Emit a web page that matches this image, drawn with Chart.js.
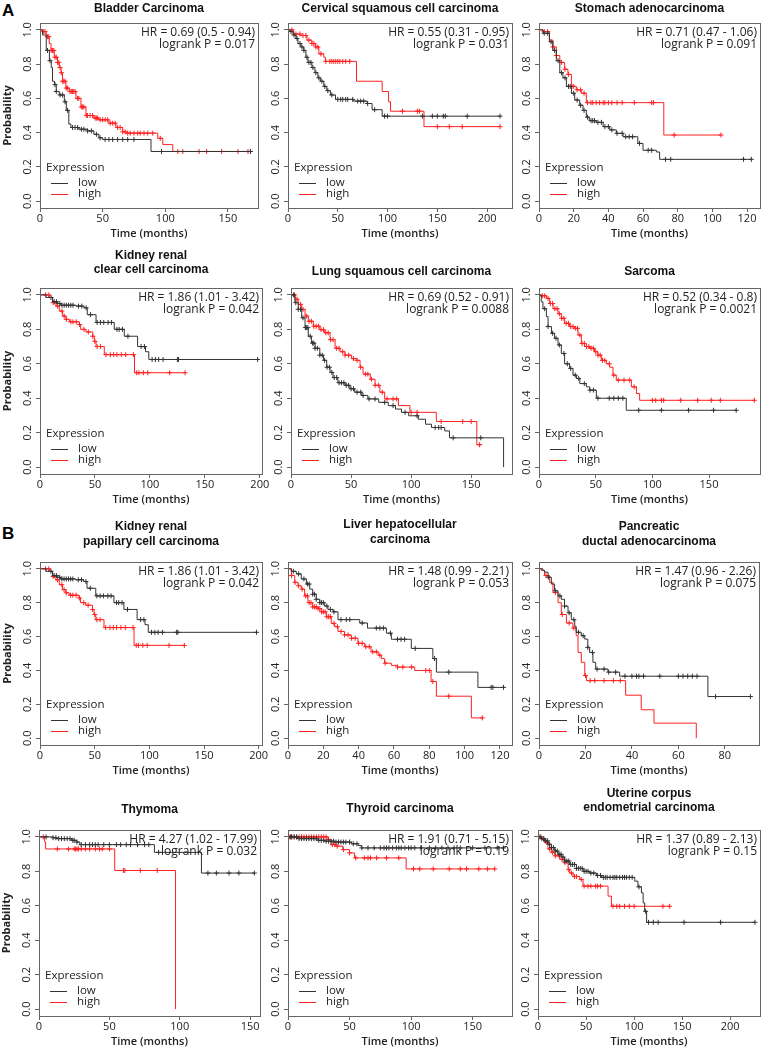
<!DOCTYPE html>
<html>
<head>
<meta charset="utf-8">
<script src="https://cdn.jsdelivr.net/npm/chart.js@4.4.1/dist/chart.umd.min.js"></script>
<style>
  html, body { margin: 0; padding: 0; background: #fff; }
  body { position: relative; width: 765px; height: 1051px; overflow: hidden; }
  canvas { position: absolute; }
  .tag { position: absolute; font: bold 17px "Liberation Sans", Arial, sans-serif; line-height: 17px; color: #000; }
</style>
</head>
<body>
<div class="tag" style="left:2px;top:2px;">A</div>
<div class="tag" style="left:2px;top:525px;">B</div>
<script>
// ============================================
// KAPLAN-MEIER PANELS
// steps: [time (months), survival after drop]; censors: times only
// ============================================

const yTicks = [0, 0.2, 0.4, 0.6, 0.8, 1.0];
const ticks50 = [0, 50, 100, 150];
const ticks50to200 = [0, 50, 100, 150, 200];
const ticks20to120 = [0, 20, 40, 60, 80, 100, 120];
const ticks20to80 = [0, 20, 40, 60, 80];

// Bladder Carcinoma
const bladderTitle = ['Bladder Carcinoma'];
const bladderHr = ['HR = 0.69 (0.5 - 0.94)', 'logrank P = 0.017'];
const bladderLow = [[0,1],[2,0.97],[5,0.88],[7.5,0.82],[9,0.78],[10,0.70],[11.5,0.68],[13,0.64],[15.4,0.62],[19.4,0.58],[21,0.53],[23,0.45],[24.7,0.43],[31,0.42],[38,0.41],[43,0.39],[47,0.37],[50,0.36],[88.6,0.29],[168,0.29]];
const bladderLowCens = [6,8,12,13,16,18,20,22,26,28,30,33,35,38,41,45,48,52,55,58,62,66,70,75,97,168];
const bladderHigh = [[0,1],[2,0.99],[5,0.96],[7.4,0.92],[8.8,0.88],[11.4,0.84],[14,0.81],[15.4,0.78],[16.8,0.75],[18,0.70],[20.7,0.66],[23.4,0.64],[28.7,0.60],[32.7,0.55],[36.7,0.50],[43,0.485],[47,0.475],[55,0.455],[60.6,0.43],[66,0.405],[68.6,0.397],[94,0.367],[98,0.33],[106,0.29],[170,0.29]];
const bladderHighCens = [3,4,6,7,9,10,11,12,13,14,15,16,17,18,19,20,21,22,24,25,26,27,28,30,31,33,34,35,37,38,40,42,44,45,46,48,50,52,54,56,58,60,62,64,66,68,70,72,75,78,80,83,86,90,96,110,114,127,133,145,158,166,168];

// Cervical squamous cell carcinoma
const cervTitle = ['Cervical squamous cell carcinoma'];
const cervHr = ['HR = 0.55 (0.31 - 0.95)', 'logrank P = 0.031'];
const cervLow = [[0,1],[2,0.99],[5,0.97],[8,0.95],[10,0.92],[13,0.90],[15.8,0.88],[18,0.84],[20,0.81],[24,0.78],[27,0.75],[30,0.72],[32.5,0.70],[36,0.67],[39,0.645],[42.6,0.62],[47.7,0.594],[66,0.584],[79.5,0.57],[84.5,0.534],[94.6,0.496],[213,0.496]];
const cervLowCens = [3,6,9,12,14,16,19,21,23,25,28,31,34,37,40,44,50,53,55,58,60,65,70,73,76,80,87,97,100,135,145,150,156,158,180,213];
const cervHigh = [[0,1],[5.7,0.976],[12.4,0.967],[19,0.94],[24,0.92],[27.5,0.90],[31,0.86],[36,0.84],[37.6,0.816],[68.8,0.70],[94.6,0.64],[101,0.58],[103,0.525],[136.6,0.435],[213,0.435]];
const cervHighCens = [4,8,12,15,18,21,24,26,28,30,33,38,42,44,46,48,50,52,55,58,62,115,130,132,150,162,175,213];

// Stomach adenocarcinoma
const stomTitle = ['Stomach adenocarcinoma'];
const stomHr = ['HR = 0.71 (0.47 - 1.06)', 'logrank P = 0.091'];
const stomLow = [[0,1],[2.3,0.98],[6,0.93],[8,0.88],[10,0.82],[12,0.75],[13.8,0.72],[15.8,0.67],[18.7,0.63],[20.6,0.59],[23.5,0.56],[25.4,0.53],[27.3,0.49],[29,0.47],[33,0.46],[37,0.435],[40.8,0.416],[44.6,0.396],[48.5,0.376],[57,0.337],[60,0.297],[67.7,0.287],[69.6,0.244],[122.5,0.244]];
const stomLowCens = [3,5,7,9,11,13,15,17,18,20,22,24,26,28,30,31,32,34,36,38,40,42,45,48,50,52,54,58,63,65,73,76,118,122.5];
const stomHigh = [[0,1],[2.3,0.99],[6,0.94],[8,0.90],[10,0.85],[12,0.81],[14.8,0.77],[16.7,0.74],[18.7,0.67],[21.5,0.65],[24.4,0.63],[27.3,0.575],[72,0.386],[105,0.386]];
const stomHighCens = [3,5,8,10,13,15,17,19,20,22,24,26,28,30,31,33,35,37,38,40,42,45,48,55,65,66,78,105];

// Kidney renal (same curves appear in A and B)
const kidneyClearTitle = ['Kidney renal', 'clear cell carcinoma'];
const kidneyPapTitle = ['Kidney renal', 'papillary cell carcinoma'];
const kidneyHr = ['HR = 1.86 (1.01 - 3.42)', 'logrank P = 0.042'];
const kidneyLow = [[0,1],[5.5,0.985],[11.5,0.96],[16,0.95],[19,0.94],[32.7,0.935],[40,0.925],[43,0.885],[51,0.84],[67.6,0.80],[76.7,0.76],[88.8,0.70],[96,0.67],[99,0.625],[198,0.625]];
const kidneyLowCens = [10,13,15,18,20,22,24,26,28,30,35,38,42,46,52,55,58,62,65,70,72,75,80,92,95,102,105,108,112,125,126,198];
const kidneyHigh = [[0,1],[8.5,0.985],[11.5,0.955],[14.5,0.935],[17.6,0.906],[20.6,0.877],[23.6,0.858],[26.7,0.844],[35.8,0.828],[37,0.80],[41.8,0.785],[48,0.76],[49.4,0.73],[51,0.70],[58.5,0.653],[86,0.548],[132,0.548]];
const kidneyHighCens = [5,8,12,16,20,22,24,28,30,33,36,40,44,48,50,52,55,60,64,67,70,74,78,85,88,90,94,98,118,132];

// Lung squamous cell carcinoma
const lungTitle = ['Lung squamous cell carcinoma'];
const lungHr = ['HR = 0.69 (0.52 - 0.91)', 'logrank P = 0.0088'];
const lungLow = [[0,1],[3.3,0.955],[6,0.916],[8.9,0.867],[11.7,0.81],[14.4,0.76],[17,0.72],[20,0.69],[24,0.65],[27,0.62],[29.7,0.58],[32.5,0.55],[35,0.52],[39,0.49],[45,0.475],[49,0.455],[53,0.435],[59,0.416],[64,0.396],[73,0.376],[81,0.357],[87,0.337],[92,0.318],[98,0.298],[106,0.278],[112,0.249],[117,0.23],[128,0.21],[132,0.17],[177,0]];
const lungLowCens = [2,4,6,8,10,12,13,14,16,18,19,20,22,24,26,28,30,32,34,36,38,40,42,44,46,48,50,52,55,58,60,65,70,78,85,95,105,120,123,125,135,158];
const lungHigh = [[0,1],[3.3,0.975],[6,0.945],[8.9,0.916],[11.7,0.877],[14.4,0.847],[18.6,0.818],[24,0.798],[28,0.78],[32.5,0.74],[36.7,0.69],[40.8,0.67],[45,0.65],[50.5,0.63],[54.7,0.62],[57.5,0.58],[60,0.54],[66,0.51],[70,0.475],[74,0.435],[78,0.396],[89.4,0.357],[99,0.318],[121,0.265],[154.7,0.13],[159,0.13]];
const lungHighCens = [3,5,8,10,13,15,17,19,21,23,25,27,29,31,33,35,38,40,43,45,48,52,55,58,62,64,67,70,73,76,80,85,88,100,105,125,143,150,157];

// Sarcoma
const sarcTitle = ['Sarcoma'];
const sarcHr = ['HR = 0.52 (0.34 - 0.8)', 'logrank P = 0.0021'];
const sarcLow = [[0,1],[2,0.96],[3.5,0.92],[6.5,0.874],[8,0.816],[11,0.777],[13.8,0.748],[16.8,0.709],[19.7,0.66],[22.6,0.60],[27,0.573],[30,0.534],[33,0.515],[36,0.485],[41.8,0.466],[44.7,0.447],[50.6,0.40],[77,0.33],[174,0.33]];
const sarcLowCens = [5,8,12,15,18,22,25,28,32,35,40,45,48,52,62,66,70,74,88,108,132,154,174];
const sarcHigh = [[0,1],[2,0.995],[6.5,0.98],[9.4,0.95],[12.4,0.92],[16.8,0.89],[19.7,0.864],[22.6,0.835],[27,0.816],[31.5,0.806],[34.4,0.767],[37.4,0.718],[40.3,0.70],[44.7,0.69],[49,0.67],[52,0.65],[55,0.62],[59.4,0.60],[62.4,0.58],[65.3,0.534],[68.2,0.505],[81.5,0.466],[86,0.427],[88.8,0.388],[190,0.388]];
const sarcHighCens = [3,5,8,10,12,14,16,18,20,22,24,26,28,30,32,34,36,38,40,42,44,46,48,50,52,54,56,58,62,66,70,75,80,84,100,103,108,110,125,140,152,160,190];

// Liver hepatocellular carcinoma
const liverTitle = ['Liver hepatocellular', 'carcinoma'];
const liverHr = ['HR = 1.48 (0.99 - 2.21)', 'logrank P = 0.053'];
const liverLow = [[0,1],[1.9,0.985],[4.7,0.97],[7.5,0.94],[10.4,0.91],[12.3,0.88],[14,0.85],[16,0.82],[18,0.80],[20.8,0.78],[22.6,0.76],[25.5,0.746],[28.3,0.70],[40.6,0.68],[45,0.65],[55.7,0.62],[58.5,0.584],[69.8,0.53],[82,0.47],[84,0.39],[107.5,0.30],[121.7,0.30]];
const liverLowCens = [3,6,9,11,12,14,15,16,18,19,20,22,24,26,30,33,35,42,50,52,54,58,62,64,66,72,83,91,115,116,122];
const liverHigh = [[0,1],[1.9,0.96],[3.8,0.92],[5.7,0.90],[7.5,0.88],[9.4,0.84],[11.3,0.80],[14,0.775],[17,0.765],[18.9,0.746],[21.7,0.717],[24.5,0.678],[26.4,0.658],[28.3,0.63],[32,0.61],[35.8,0.59],[39.6,0.56],[43.4,0.54],[47,0.51],[51,0.49],[52.8,0.47],[54.7,0.443],[58.5,0.43],[62,0.42],[71.7,0.40],[81,0.335],[84,0.248],[103.8,0.12],[110,0.12]];
const liverHighCens = [2,4,6,8,10,11,12,13,14,15,16,17,18,19,20,21,22,23,24,26,28,30,32,34,36,38,40,42,44,46,48,50,52,55,62,65,70,78,80,82,91,110];

// Pancreatic ductal adenocarcinoma
const pancTitle = ['Pancreatic', 'ductal adenocarcinoma'];
const pancHr = ['HR = 1.47 (0.96 - 2.26)', 'logrank P = 0.075'];
const pancLow = [[0,1],[1.7,0.99],[2.4,0.98],[3.9,0.95],[5.3,0.91],[6.7,0.87],[8.2,0.84],[9.6,0.82],[11,0.78],[12.5,0.74],[13.9,0.70],[15.4,0.66],[16,0.625],[18.2,0.605],[19.7,0.585],[21,0.536],[21.8,0.506],[23.2,0.448],[24.4,0.408],[29.7,0.39],[34.7,0.366],[72.7,0.246],[91.4,0.246]];
const pancLowCens = [4,7,9,11,13,15,17,19,21,23,25,28,30,33,37,40,42,43,45,52,60,62,64,66,68,76,91];
const pancHigh = [[0,1],[1,0.99],[2.4,0.96],[4.6,0.92],[6,0.86],[8.2,0.80],[9.6,0.73],[11.8,0.68],[14.6,0.65],[16,0.605],[16.8,0.506],[18.2,0.448],[19.7,0.37],[20.4,0.34],[37.3,0.254],[44,0.168],[49.5,0.089],[67.7,0]];
const pancHighCens = [3,7,10,13,15,20,22,24,28,32,35];

// Thymoma
const thymTitle = ['Thymoma'];
const thymHr = ['HR = 4.27 (1.02 - 17.99)', 'logrank P = 0.032'];
const thymLow = [[0,1],[10,0.995],[12.3,0.99],[23,0.98],[26.5,0.97],[29,0.955],[82,0.91],[115.4,0.79],[153,0.79]];
const thymLowCens = [5,10,12,14,16,18,20,22,24,25,27,30,33,36,38,40,42,46,50,55,58,62,65,70,75,78,85,120,126,135,142,153];
const thymHigh = [[0,1],[4,0.97],[4.7,0.93],[53.8,0.805],[97,0]];
const thymHighCens = [3,13,21,25,26,27,28,30,33,36,40,43,45,50,60,61,72,84];

// Thyroid carcinoma
const thyrTitle = ['Thyroid carcinoma'];
const thyrHr = ['HR = 1.91 (0.71 - 5.15)', 'logrank P = 0.19'];
const thyrLow = [[0,1],[8,0.99],[24.4,0.98],[31,0.975],[38,0.97],[51.5,0.96],[57,0.95],[59.6,0.936],[175,0.936]];
const thyrLowCens = [2,3,5,7,9,11,13,15,17,19,21,23,25,27,29,31,33,35,37,39,41,43,45,47,50,53,56,60,65,70,75,78,80,82,85,88,90,92,95,98,100,103,108,115,120,125,130,135,140,150,160,170,175];
const thyrHigh = [[0,1],[32.5,0.985],[35,0.955],[39,0.946],[44.7,0.926],[50,0.907],[54,0.878],[96,0.814],[168,0.814]];
const thyrHighCens = [1,3,5,7,9,11,13,15,17,19,21,23,25,27,29,31,33,36,38,40,45,50,55,62,65,67,72,80,90,102,107,118,131,140,145,155,162,168];

// Uterine corpus endometrial carcinoma
const uterTitle = ['Uterine corpus', 'endometrial carcinoma'];
const uterHr = ['HR = 1.37 (0.89 - 2.13)', 'logrank P = 0.15'];
const uterLow = [[0,1],[3.5,0.99],[7,0.977],[10.4,0.957],[13.9,0.938],[17.4,0.918],[20.8,0.899],[24.3,0.883],[27.8,0.86],[33,0.84],[40,0.817],[46.9,0.80],[53.8,0.79],[60.8,0.776],[66,0.765],[100.7,0.743],[104,0.71],[107.6,0.675],[109.4,0.617],[111,0.568],[113,0.504],[225.7,0.504]];
const uterLowCens = [2,4,6,8,10,12,14,16,18,20,22,24,26,28,30,32,34,36,38,40,42,44,46,48,50,52,55,58,62,65,68,70,72,75,78,80,82,85,88,90,92,95,98,105,112,115,120,125,152,190,225.7];
const uterHigh = [[0,1],[3.5,0.986],[7,0.967],[10.4,0.93],[13.9,0.91],[17.4,0.89],[22.6,0.87],[27.8,0.85],[31.3,0.81],[33,0.79],[36.5,0.77],[43.4,0.753],[46.9,0.714],[72.9,0.656],[76.4,0.597],[137,0.597]];
const uterHighCens = [3,6,9,12,15,18,22,25,28,32,35,38,40,45,48,52,55,60,62,65,78,82,85,90,95,100,130,137];

// ============================================
// LAYOUT (page pixels): box = [left, top, right, bottom]
// ============================================
const panels = [
    { box: [40, 23, 258, 208],  titleY: [9],        xMax: 174,   xTicks: ticks50,      title: bladderTitle,     hr: bladderHr, low: bladderLow, lowCens: bladderLowCens, high: bladderHigh, highCens: bladderHighCens, yTitle: true },
    { box: [288, 23, 512, 208], titleY: [9],        xMax: 225,   xTicks: ticks50to200, title: cervTitle,        hr: cervHr,    low: cervLow,    lowCens: cervLowCens,    high: cervHigh,    highCens: cervHighCens },
    { box: [539, 23, 760, 208], titleY: [9],        xMax: 127.5, xTicks: ticks20to120, title: stomTitle,        hr: stomHr,    low: stomLow,    lowCens: stomLowCens,    high: stomHigh,    highCens: stomHighCens },
    { box: [40, 288, 262, 474], titleY: [256, 270], xMax: 202,   xTicks: ticks50to200, title: kidneyClearTitle, hr: kidneyHr,  low: kidneyLow,  lowCens: kidneyLowCens,  high: kidneyHigh,  highCens: kidneyHighCens, yTitle: true },
    { box: [291, 288, 512, 474], titleY: [272],     xMax: 184,   xTicks: ticks50,      title: lungTitle,        hr: lungHr,    low: lungLow,    lowCens: lungLowCens,    high: lungHigh,    highCens: lungHighCens },
    { box: [539, 288, 760, 474], titleY: [272],     xMax: 195,   xTicks: ticks50,      title: sarcTitle,        hr: sarcHr,    low: sarcLow,    lowCens: sarcLowCens,    high: sarcHigh,    highCens: sarcHighCens },
    { box: [40, 562, 262, 745], titleY: [527, 542], xMax: 203,   xTicks: ticks50to200, title: kidneyPapTitle,   hr: kidneyHr,  low: kidneyLow,  lowCens: kidneyLowCens,  high: kidneyHigh,  highCens: kidneyHighCens, yTitle: true },
    { box: [288, 562, 512, 745], titleY: [525, 540], xMax: 126.8, xTicks: ticks20to120, title: liverTitle,      hr: liverHr,   low: liverLow,   lowCens: liverLowCens,   high: liverHigh,   highCens: liverHighCens },
    { box: [539, 562, 759, 745], titleY: [527, 542], xMax: 94.7, xTicks: ticks20to80,  title: pancTitle,        hr: pancHr,    low: pancLow,    lowCens: pancLowCens,    high: pancHigh,    highCens: pancHighCens },
    { box: [39, 830, 260, 1016], titleY: [810],     xMax: 157,   xTicks: ticks50,      title: thymTitle,        hr: thymHr,    low: thymLow,    lowCens: thymLowCens,    high: thymHigh,    highCens: thymHighCens, yTitle: true },
    { box: [288, 830, 512, 1016], titleY: [809],    xMax: 182,   xTicks: ticks50,      title: thyrTitle,        hr: thyrHr,    low: thyrLow,    lowCens: thyrLowCens,    high: thyrHigh,    highCens: thyrHighCens },
    { box: [538, 830, 760, 1016], titleY: [794, 808], xMax: 231, xTicks: ticks50to200, title: uterTitle,        hr: uterHr,    low: uterLow,    lowCens: uterLowCens,    high: uterHigh,    highCens: uterHighCens }
];

const BLACK = '#333333';
const RED = '#ff2020';
const AXIS = '#666666';
const TEXT = '#222222';
const PAD_TOP = 52, PAD_RIGHT = 12, Y_W = 40, X_H = 36;

Chart.defaults.font.family = "'Open Sans', 'DejaVu Sans', sans-serif";
Chart.defaults.color = TEXT;

function toXY(steps) {
    return steps.map(p => ({ x: p[0], y: p[1] }));
}

// censor marks sit on the step curve at their time
function survivalAt(steps, t) {
    let s = 1;
    for (const p of steps) {
        if (p[0] <= t) s = p[1];
        else break;
    }
    return s;
}

function censorXY(steps, times) {
    return times.map(t => ({ x: t, y: survivalAt(steps, t) }));
}

function makePanelPlugin(p) {
    return {
        id: 'kmPanel',
        afterDraw(chart) {
            const ctx = chart.ctx;
            const a = chart.chartArea;
            const top = p.box[1];
            ctx.save();

            // box
            ctx.strokeStyle = AXIS;
            ctx.lineWidth = 1;
            ctx.strokeRect(Math.round(a.left) + 0.5, Math.round(a.top) + 0.5,
                Math.round(a.right - a.left), Math.round(a.bottom - a.top));

            // rotated y tick labels
            ctx.fillStyle = TEXT;
            ctx.font = "11px 'Open Sans', sans-serif";
            ctx.textAlign = 'center';
            ctx.textBaseline = 'middle';
            yTicks.forEach(v => {
                const y = chart.scales.y.getPixelForValue(v);
                ctx.save();
                ctx.translate(a.left - 12, y);
                ctx.rotate(-Math.PI / 2);
                ctx.fillText(v.toFixed(1), 0, 0);
                ctx.restore();
            });

            if (p.yTitle) {
                ctx.save();
                ctx.font = "bold 11px 'Open Sans', sans-serif";
                ctx.translate(a.left - 32, (a.top + a.bottom) / 2);
                ctx.rotate(-Math.PI / 2);
                ctx.fillText('Probability', 0, 0);
                ctx.restore();
            }

            // x title
            ctx.font = "600 11px 'Open Sans', sans-serif";
            ctx.fillText('Time (months)', (a.left + a.right) / 2, a.bottom + 26);

            // panel title
            ctx.font = "bold 12px 'Liberation Sans', Arial, sans-serif";
            ctx.fillStyle = '#111';
            p.title.forEach((line, i) => {
                ctx.fillText(line, (a.left + a.right) / 2, a.top + (p.titleY[i] - top));
            });

            // HR / logrank text
            ctx.fillStyle = TEXT;
            ctx.font = "12px 'Open Sans', sans-serif";
            ctx.textAlign = 'right';
            ctx.fillText(p.hr[0], a.right - 3, a.top + 10);
            ctx.fillText(p.hr[1], a.right - 3, a.top + 22);

            // legend
            ctx.textAlign = 'left';
            ctx.font = "11.5px 'Open Sans', sans-serif";
            ctx.fillText('Expression', a.left + 6, a.bottom - 40);
            ctx.fillText('low', a.left + 38, a.bottom - 25);
            ctx.fillText('high', a.left + 38, a.bottom - 14);
            ctx.lineWidth = 1;
            ctx.strokeStyle = BLACK;
            ctx.beginPath();
            ctx.moveTo(a.left + 11, Math.round(a.bottom - 25) + 0.5);
            ctx.lineTo(a.left + 28, Math.round(a.bottom - 25) + 0.5);
            ctx.stroke();
            ctx.strokeStyle = RED;
            ctx.beginPath();
            ctx.moveTo(a.left + 11, Math.round(a.bottom - 14) + 0.5);
            ctx.lineTo(a.left + 28, Math.round(a.bottom - 14) + 0.5);
            ctx.stroke();

            ctx.restore();
        }
    };
}

function drawPanel(p) {
    const [L, T, R, B] = p.box;
    const canvas = document.createElement('canvas');
    const w = (R - L) + Y_W + PAD_RIGHT;
    const h = (B - T) + PAD_TOP + X_H;
    canvas.width = w;
    canvas.height = h;
    canvas.style.left = (L - Y_W) + 'px';
    canvas.style.top = (T - PAD_TOP) + 'px';
    canvas.style.width = w + 'px';
    canvas.style.height = h + 'px';
    document.body.appendChild(canvas);

    const censorStyle = { showLine: false, pointStyle: 'cross', pointRadius: 2.5, pointBorderWidth: 1, borderWidth: 1 };

    new Chart(canvas, {
        type: 'line',
        data: {
            datasets: [
                { data: toXY(p.low), borderColor: BLACK, borderWidth: 1, stepped: true, pointRadius: 0, fill: false },
                { data: censorXY(p.low, p.lowCens), borderColor: BLACK, pointBorderColor: BLACK, ...censorStyle },
                { data: toXY(p.high), borderColor: RED, borderWidth: 1, stepped: true, pointRadius: 0, fill: false },
                { data: censorXY(p.high, p.highCens), borderColor: RED, pointBorderColor: RED, ...censorStyle }
            ]
        },
        options: {
            responsive: false,
            animation: false,
            devicePixelRatio: 1,
            events: [],
            layout: { padding: { top: PAD_TOP, right: PAD_RIGHT, left: 0, bottom: 0 } },
            plugins: {
                legend: { display: false },
                tooltip: { enabled: false }
            },
            scales: {
                x: {
                    type: 'linear',
                    min: 0,
                    max: p.xMax,
                    afterBuildTicks: s => { s.ticks = p.xTicks.map(v => ({ value: v })); },
                    afterFit: s => { s.height = X_H; },
                    grid: { drawOnChartArea: false, drawTicks: true, tickLength: 4, color: AXIS },
                    border: { display: false },
                    ticks: { padding: 0, maxRotation: 0, autoSkip: false, color: TEXT, font: { size: 11 } }
                },
                y: {
                    type: 'linear',
                    min: -0.04,
                    max: 1.04,
                    afterBuildTicks: s => { s.ticks = yTicks.map(v => ({ value: v })); },
                    afterFit: s => { s.width = Y_W; },
                    grid: { drawOnChartArea: false, drawTicks: true, tickLength: 4, color: AXIS },
                    border: { display: false },
                    ticks: { display: false }
                }
            }
        },
        plugins: [makePanelPlugin(p)]
    });
}

panels.forEach(drawPanel);
</script>
</body>
</html>
